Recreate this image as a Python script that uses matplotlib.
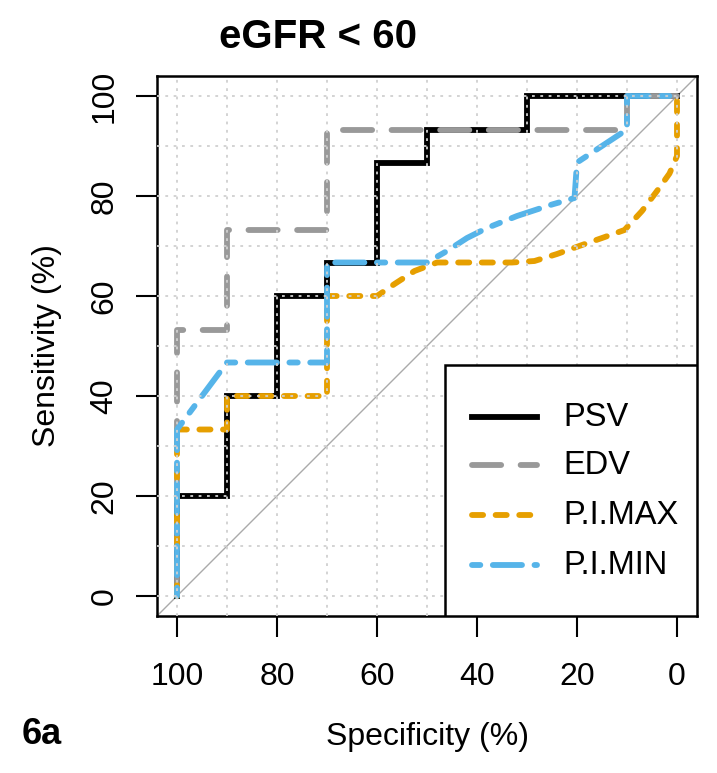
import numpy as np
import matplotlib
matplotlib.use("Agg")
import matplotlib.pyplot as plt
from matplotlib.patches import Rectangle

# ROC curves, eGFR < 60 group
psv_spec = [100, 100, 90, 90, 80, 80, 70, 70, 60, 60, 50, 50, 30, 30, 0]
psv_sens = [0, 20, 20, 40, 40, 60, 60, 66.7, 66.7, 86.7, 86.7, 93.3, 93.3, 100, 100]

edv_spec = [100, 100, 90, 90, 70, 70, 10, 10, 0]
edv_sens = [0, 53.3, 53.3, 73.3, 73.3, 93.3, 93.3, 100, 100]

pimax_spec = [100, 100, 90, 90, 70, 70, 60, 56.5, 52.5, 48, 40, 33, 28.5, 24, 19, 15, 10.5, 7, 4, 1.5, 0, 0]
pimax_sens = [0, 33.3, 33.3, 40, 40, 60, 60, 62.4, 65, 66.7, 66.7, 66.7, 67, 68.4, 70.2, 71.6, 73.2, 77, 81, 84.5, 88, 100]

pimin_spec = [100, 100, 90, 70, 70, 50, 46, 42, 38, 32, 25, 20.5, 20, 10, 10, 0]
pimin_sens = [0, 33.3, 46.7, 46.7, 66.7, 66.7, 69, 71.6, 73.6, 76, 78.3, 79.6, 86.7, 93.3, 100, 100]

labels = ["PSV", "EDV", "P.I.MAX", "P.I.MIN"]
colors = ["black", "#999999", "#E69F00", "#56B4E9"]

plt.rcParams["font.family"] = ["Liberation Sans", "DejaVu Sans"]
plt.rcParams["lines.scale_dashes"] = False

fig = plt.figure(figsize=(7.17, 7.73), dpi=100)
ax = fig.add_axes([157 / 717, 1 - 616 / 773, 540 / 717, 540 / 773])

lw = 4.2
styles = [dict(solid_joinstyle="miter"),
          dict(dashes=(21, 14), dash_capstyle="round"),
          dict(dashes=(8, 9), dash_capstyle="round"),
          dict(dashes=(6, 9, 21, 9), dash_capstyle="round")]

ax.axline((100, 0), (0, 100), color="#aaaaaa", lw=1.0, zorder=1)
curves = [(psv_spec, psv_sens), (edv_spec, edv_sens),
          (pimax_spec, pimax_sens), (pimin_spec, pimin_sens)]
for (xs, ys), c, st in zip(curves, colors, styles):
    ax.plot(xs, ys, color=c, lw=lw, **st)

ax.set_xlim(104, -4)
ax.set_ylim(-4, 104)
ax.set_xticks(np.arange(0, 101, 20))
ax.set_yticks(np.arange(0, 101, 20))
ax.set_xticks(np.arange(0, 101, 10), minor=True)
ax.set_yticks(np.arange(0, 101, 10), minor=True)
ax.tick_params(which="minor", length=0)
ax.tick_params(which="major", length=15, width=1.5, labelsize=23)
ax.tick_params(axis="x", pad=18)
ax.tick_params(axis="y", pad=12, labelrotation=90)
for t in ax.get_yticklabels():
    t.set_va("center")

# grid drawn on top of the curves like in the original
ax.set_axisbelow(False)
ax.grid(True, which="both", color="#d0d0d0", lw=1.3, linestyle=(0, (2, 4)))
for s in ax.spines.values():
    s.set_linewidth(1.8)

ax.set_xlabel("Specificity (%)", fontsize=23, labelpad=22)
ax.set_ylabel("Sensitivity (%)", fontsize=23, labelpad=20)

# legend box in the lower right corner (R style)
box = Rectangle((0.533, 0.0), 0.467, 0.465, transform=ax.transAxes,
                facecolor="white", edgecolor="black", lw=1.8, zorder=5)
ax.add_patch(box)
row_y = [0.3685, 0.2796, 0.187, 0.0944]
for lab, c, st, yy in zip(labels, colors, styles, row_y):
    ax.plot([0.583, 0.704], [yy, yy], transform=ax.transAxes, color=c, lw=lw,
            zorder=6, clip_on=False, **st)
    ax.text(0.752, yy, lab, transform=ax.transAxes, fontsize=23.5,
            va="center", ha="left", zorder=6)

fig.text(318 / 717, 1 - 37 / 773, "eGFR < 60", fontsize=29, fontweight="bold",
         ha="center", va="center")
fig.text(22 / 717, 1 - 735 / 773, "6a", fontsize=26, fontweight="bold",
         ha="left", va="center")

fig.savefig("out.png", dpi=100)
